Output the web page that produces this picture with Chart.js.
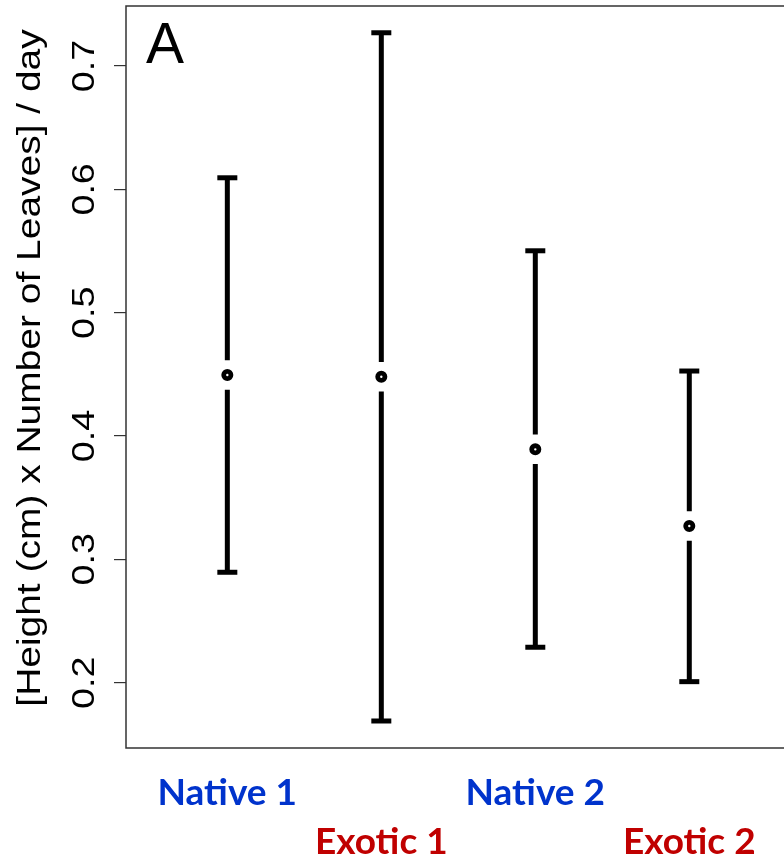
<!DOCTYPE html>
<html>
<head>
<meta charset="utf-8">
<script src="https://cdn.jsdelivr.net/npm/chart.js@4.4.1/dist/chart.umd.min.js"></script>
<style>
  html, body { margin: 0; padding: 0; background: #fff; overflow: hidden; }
  #wrap { width: 784px; height: 861px; }
  canvas { display: block; }
</style>
</head>
<body>
<div id="wrap"><canvas id="ciChart"></canvas></div>
<script>
// values
const groups = ['Native 1', 'Exotic 1', 'Native 2', 'Exotic 2'];
const groupColors = ['#0033cc', '#c00000', '#0033cc', '#c00000'];
const means = [0.4495, 0.4481, 0.3892, 0.3270];
const upper = [0.6094, 0.7270, 0.5502, 0.4527];
const lower = [0.2895, 0.1689, 0.2287, 0.2008];
const yTicks = [0.2, 0.3, 0.4, 0.5, 0.6, 0.7];
const yTitle = '[Height (cm) x Number of Leaves] / day';

const GAP = 0.012;     // white gap around each mean point
const STRETCH = 1.18;  // the original figure is stretched vertically
const xPos = groups.map((g, i) => i + 1);

// one dataset per error bar, gap around the mean
const barSets = groups.map((g, i) => ({
    type: 'line',
    label: g,
    data: [
        { x: xPos[i], y: lower[i] },
        { x: xPos[i], y: means[i] - GAP },
        { x: xPos[i], y: null },
        { x: xPos[i], y: means[i] + GAP },
        { x: xPos[i], y: upper[i] }
    ],
    showLine: true,
    spanGaps: false,
    borderColor: '#000',
    borderWidth: 5,
    borderCapStyle: 'butt',
    pointStyle: 'line',
    pointRadius: [10, 0, 0, 0, 10],
    pointBorderWidth: 5,
    pointBorderColor: '#000',
    pointHoverRadius: 0
}));

const meanSet = {
    type: 'scatter',
    label: 'mean',
    data: groups.map((g, i) => ({ x: xPos[i], y: means[i] })),
    pointStyle: 'circle',
    pointRadius: 3.6,
    pointBorderWidth: 4.8,
    pointBorderColor: '#000',
    pointBackgroundColor: '#fff'
};

function vText(ctx, txt, x, y) {
    ctx.save();
    ctx.translate(x, y);
    ctx.rotate(-Math.PI / 2);
    ctx.scale(STRETCH, 1);
    ctx.fillText(txt, 0, 0);
    ctx.restore();
}

// box, rotated y labels, y title and the panel letter
const rPlot = {
    id: 'rPlot',
    afterDraw(chart) {
        const { ctx, chartArea: a, scales } = chart;
        ctx.save();
        ctx.strokeStyle = '#333';
        ctx.lineWidth = 1.5;
        ctx.beginPath();
        ctx.moveTo(a.right, a.top);
        ctx.lineTo(a.left, a.top);
        ctx.lineTo(a.left, a.bottom);
        ctx.lineTo(a.right, a.bottom);
        ctx.stroke();

        ctx.fillStyle = '#000';
        ctx.textAlign = 'center';
        ctx.textBaseline = 'middle';
        ctx.font = "32px 'Liberation Sans', Arial, sans-serif";
        scales.y.ticks.forEach(t => {
            vText(ctx, t.value.toFixed(1), a.left - 41, scales.y.getPixelForValue(t.value));
        });

        ctx.font = "33px 'Liberation Sans', Arial, sans-serif";
        vText(ctx, yTitle, 31, (a.top + a.bottom) / 2 - 9);

        ctx.font = "57px 'Liberation Sans', Arial, sans-serif";
        ctx.textAlign = 'left';
        ctx.textBaseline = 'alphabetic';
        ctx.fillText('A', a.left + 20, a.top + 57);
        ctx.restore();
    }
};

new Chart(document.getElementById('ciChart'), {
    type: 'scatter',
    data: { datasets: [...barSets, meanSet] },
    options: {
        responsive: true, maintainAspectRatio: false,
        animation: false,
        layout: { autoPadding: false, padding: { top: 6, left: 0, right: 0, bottom: 0 } },
        plugins: { legend: { display: false }, tooltip: { enabled: false } },
        scales: {
            x: {
                type: 'linear',
                min: 0.342, max: 4.615,
                afterBuildTicks: s => { s.ticks = xPos.map(v => ({ value: v })); },
                afterFit: s => { s.height = 113; },
                grid: { display: false, drawTicks: false },
                border: { display: false },
                ticks: {
                    padding: 21,
                    autoSkip: false,
                    maxRotation: 0,
                    callback: (v, i) => i % 2 === 0 ? [groups[i], ''] : ['', groups[i]],
                    color: c => groupColors[c.index],
                    font: { family: "Lato, 'Open Sans', sans-serif", size: 37, weight: 'bold', lineHeight: '49px' }
                }
            },
            y: {
                type: 'linear',
                min: 0.147, max: 0.7487,
                afterBuildTicks: s => { s.ticks = yTicks.map(v => ({ value: v })); },
                afterFit: s => { s.width = 126; },
                grid: { drawOnChartArea: false, drawTicks: true, tickLength: 12, color: '#333', lineWidth: 1.2 },
                border: { display: false },
                ticks: { display: false }
            }
        }
    },
    plugins: [rPlot]
});
</script>
</body>
</html>
